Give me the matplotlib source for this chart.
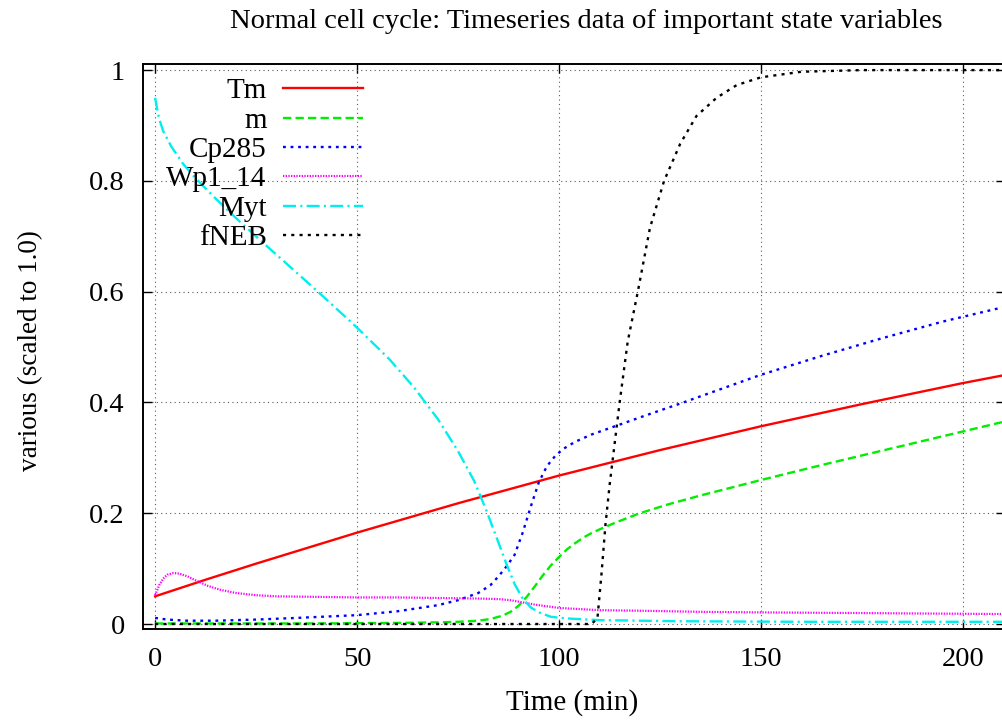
import matplotlib
matplotlib.use("Agg")
import matplotlib.pyplot as plt

plt.rcParams['font.family'] = ['Liberation Serif', 'DejaVu Serif']

# Tm (red, solid)
t_tm = [0, 12.5, 25, 37.5, 50, 75, 100, 125, 150, 175, 200, 210]
tm = [0.050, 0.080, 0.109, 0.137, 0.165, 0.218, 0.268, 0.314, 0.357, 0.397,
      0.435, 0.449]

# m (green, dashed)
t_m = [0, 20, 40, 60, 70, 75, 80, 83, 86, 88, 90, 92, 94, 96, 98, 100, 102,
       104, 106, 108, 111, 115, 120, 127, 135, 150, 165, 180, 195, 210]
m = [0.001, 0.001, 0.001, 0.002, 0.003, 0.004, 0.006, 0.009, 0.015, 0.022,
     0.033, 0.049, 0.068, 0.088, 0.106, 0.121, 0.135, 0.146, 0.156, 0.164,
     0.174, 0.186, 0.200, 0.216, 0.232, 0.260, 0.287, 0.313, 0.339, 0.365]

# Cp285 (blue, dotted)
t_cp = [0, 3, 8, 15, 25, 35, 50, 60, 70, 75, 80, 83, 85, 87, 89, 91, 93, 95,
        97, 99, 101, 104, 108, 115, 122, 130, 140, 150, 165, 180, 195, 210]
cp285 = [0.011, 0.008, 0.006, 0.006, 0.008, 0.011, 0.016, 0.023, 0.034, 0.043,
         0.056, 0.070, 0.086, 0.104, 0.125, 0.165, 0.212, 0.256, 0.285, 0.303,
         0.316, 0.329, 0.342, 0.360, 0.378, 0.398, 0.424, 0.450, 0.484, 0.516,
         0.546, 0.572]

# Wp1_14 (magenta, fine dots)
t_wp = [0, 1, 2, 3, 4.5, 6, 8, 10, 13, 16, 20, 25, 30, 40, 50, 60, 70, 80, 85,
        88, 91, 94, 97, 100, 105, 110, 120, 135, 150, 170, 190, 210]
wp1_14 = [0.052, 0.070, 0.082, 0.089, 0.092, 0.091, 0.086, 0.079, 0.069, 0.062,
          0.056, 0.052, 0.050, 0.049, 0.048, 0.048, 0.047, 0.046, 0.045, 0.043,
          0.039, 0.035, 0.032, 0.029, 0.027, 0.025, 0.024, 0.022, 0.021, 0.020,
          0.019, 0.018]

# Myt (cyan, dash-dot)
t_myt = [0, 0.5, 1, 2, 4, 7, 10, 15, 20, 26, 32, 40, 50, 58, 64, 70, 75, 79,
         82, 85, 87, 89, 91, 93, 95, 98, 102, 110, 130, 160, 190, 210]
myt = [0.950, 0.930, 0.912, 0.890, 0.862, 0.830, 0.805, 0.768, 0.733, 0.693,
       0.654, 0.602, 0.535, 0.478, 0.428, 0.370, 0.312, 0.258, 0.205, 0.147,
       0.108, 0.072, 0.046, 0.030, 0.021, 0.013, 0.010, 0.007, 0.005, 0.004,
       0.004, 0.004]

# fNEB (black, dotted)
t_neb = [0, 50, 100, 108, 109.5, 110.5, 111.5, 112.5, 113.5, 115, 117, 119.5,
         122.5, 126, 130, 134, 139, 144, 150, 160, 175, 190, 210]
fneb = [0, 0, 0, 0, 0.01, 0.09, 0.18, 0.25, 0.31, 0.40, 0.51, 0.60, 0.715,
        0.80, 0.867, 0.917, 0.95, 0.973, 0.987, 0.997, 1.0, 1.0, 1.0]

fs = 21

fig = plt.figure(figsize=(10.03, 7.25), dpi=100)
ax = fig.add_axes([143 / 1003, 96 / 725, 862 / 1003, 565 / 725])

ax.plot(t_tm, tm, color='#ff0000', lw=1.7, label='Tm')
ax.plot(t_m, m, color='#00ee00', lw=1.7, dashes=(3.5, 1.8), label='m')
ax.plot(t_cp, cp285, color='#0000ff', lw=1.7, dashes=(1.2, 2.0), label='Cp285')
ax.plot(t_wp, wp1_14, color='#ff00ff', lw=1.6, dashes=(0.6, 0.6), label='Wp1_14')
ax.plot(t_myt, myt, color='#00eeee', lw=1.7, dashes=(5.5, 1.8, 0.9, 1.8), label='Myt')
ax.plot(t_neb, fneb, color='black', lw=1.7, dashes=(1.3, 2.2), label='fNEB')

ax.set_xlim(-3, 210.4)
ax.set_ylim(-0.009, 1.011)
ax.set_xticks([0, 50, 100, 150, 200])
ax.set_yticks([0, 0.2, 0.4, 0.6, 0.8, 1.0])
ax.set_yticklabels(['0', '0.2', '0.4', '0.6', '0.8', '1'])
ax.tick_params(direction='in', length=6.5, width=1, top=True, right=True,
               labelsize=20.5, pad=13)
ax.grid(True, color='0.35', lw=0.8, linestyle=(0, (1, 3)))
ax.set_axisbelow(True)
for sp in ax.spines.values():
    sp.set_linewidth(1.4)

ax.legend(loc='upper right', bbox_to_anchor=((363 - 143) / 862, (629 - 78) / 565),
          markerfirst=False, frameon=False, fontsize=fs, borderpad=0,
          borderaxespad=0, handlelength=2.75, handletextpad=0.55,
          labelspacing=0.1)

fig.text(586 / 1003, 1 - 22 / 725, 'Normal cell cycle: Timeseries data of important state variables',
         ha='center', va='center', fontsize=20.5)
fig.text(572 / 1003, 1 - 703 / 725, 'Time (min)', ha='center', va='center', fontsize=fs)
fig.text(31 / 1003, 1 - 351 / 725, 'various (scaled to 1.0)', ha='center', va='center',
         rotation=90, fontsize=19.5)

fig.savefig('out.png', dpi=100)
